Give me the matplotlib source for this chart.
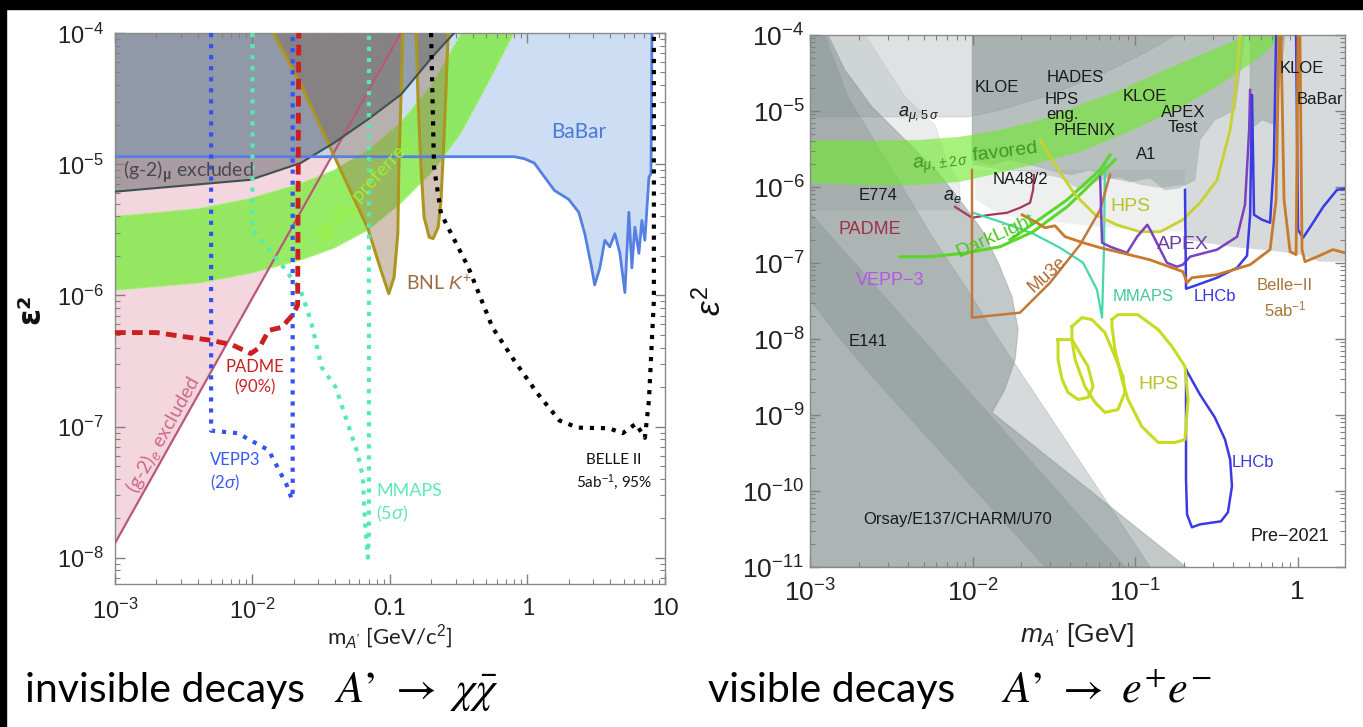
import matplotlib
matplotlib.use('Agg')
import matplotlib.pyplot as plt
from matplotlib.patches import Rectangle
from matplotlib.ticker import FixedLocator, LogLocator, NullFormatter

plt.rcParams['mathtext.fontset'] = 'custom'
plt.rcParams['mathtext.rm'] = 'Liberation Sans'
plt.rcParams['mathtext.it'] = 'Liberation Sans:italic'
plt.rcParams['mathtext.bf'] = 'Liberation Sans:bold'

# -------------------------------------------------
# Invisible decays: (mass [GeV], eps^2) curves
# -------------------------------------------------
babar_m = [1e-3, 0.80, 0.95, 1.12, 1.57, 1.99, 2.36, 2.61, 2.93, 3.08, 3.36, 3.65, 3.97, 4.32,
           4.70, 5.11, 5.46, 5.74, 6.04, 6.46, 6.79, 7.14, 7.64, 7.91, 8.04]
babar_eps = [1.14e-5, 1.14e-5, 1.10e-5, 1.02e-5, 6.3e-6, 5.4e-6, 4.3e-6, 2.95e-6, 1.62e-6, 1.20e-6,
             1.62e-6, 2.63e-6, 2.34e-6, 2.95e-6, 2.09e-6, 1.05e-6, 4.3e-6, 1.62e-6, 3.31e-6,
             2.09e-6, 3.72e-6, 2.63e-6, 7.9e-6, 8.5e-6, 1e-4]

gmu_m = [1e-3, 9.67e-3, 0.0224, 0.039, 0.069, 0.120, 0.209, 0.293]
gmu_eps = [6.17e-6, 7.6e-6, 1.02e-5, 1.45e-5, 2.19e-5, 3.39e-5, 6.8e-5, 1e-4]

ge_m = [1e-3, 0.120]
ge_eps = [1.29e-8, 1e-4]

gpref_up_m = [1e-3, 4.17e-3, 9.67e-3, 0.0224, 0.039, 0.069, 0.120, 0.199, 0.330]
gpref_up_eps = [4.01e-6, 4.61e-6, 5.50e-6, 7.16e-6, 9.0e-6, 1.28e-5, 2.09e-5, 4.01e-5, 1e-4]
gpref_lo_m = [1e-3, 4.17e-3, 9.67e-3, 0.0224, 0.039, 0.069, 0.120, 0.209, 0.330, 0.519, 0.80]
gpref_lo_eps = [1.09e-6, 1.24e-6, 1.47e-6, 1.85e-6, 2.28e-6, 3.13e-6, 5.04e-6, 9.0e-6, 1.73e-5,
                4.15e-5, 1e-4]

bnl1_m = [0.0142, 0.0224, 0.039, 0.069, 0.086, 0.098, 0.107, 0.114, 0.116, 0.120, 0.124]
bnl1_eps = [1e-4, 4.08e-5, 1.17e-5, 3.24e-6, 1.55e-6, 1.03e-6, 1.37e-6, 2.97e-6, 9.5e-6, 3.08e-5, 1e-4]
bnl2_m = [0.155, 0.160, 0.168, 0.177, 0.193, 0.206, 0.224, 0.235, 0.248, 0.265]
bnl2_eps = [1e-4, 3.08e-5, 9.5e-6, 3.94e-6, 2.77e-6, 2.71e-6, 3.30e-6, 5.31e-6, 1.73e-5, 1e-4]

vepp3_m = [5.0e-3, 5.0e-3, 7.8e-3, 0.0131, 0.0177, 0.0193, 0.0196, 0.0196]
vepp3_eps = [1e-4, 9.3e-8, 8.9e-8, 6.6e-8, 3.6e-8, 2.8e-8, 3.2e-8, 1e-4]

padme_m = [1e-3, 2.0e-3, 3.35e-3, 4.94e-3, 7.1e-3, 9.7e-3, 0.01125, 0.0131, 0.0163, 0.0196, 0.0213, 0.0217]
padme_eps = [5.2e-7, 5.2e-7, 4.8e-7, 4.55e-7, 4.2e-7, 3.6e-7, 4.0e-7, 5.4e-7, 5.7e-7, 7.1e-7, 8.4e-7, 1e-4]

mmaps_m = [0.0100, 0.0100, 0.01286, 0.0168, 0.0224, 0.0265, 0.0319, 0.0403, 0.0583, 0.0635, 0.0657,
           0.0690, 0.0703, 0.0703]
mmaps_eps = [1e-4, 3.13e-6, 2.32e-6, 1.64e-6, 1.09e-6, 6.45e-7, 2.82e-7, 1.99e-7, 6.2e-8, 4.1e-8,
             1.9e-8, 1.0e-8, 1.6e-8, 1e-4]

belle_m = [0.199, 0.209, 0.235, 0.371, 0.556, 0.80, 1.18, 1.71, 2.32, 3.90, 4.93, 6.14, 7.14, 7.64, 8.3, 8.3]
belle_eps = [1e-4, 9.5e-6, 4.2e-6, 1.64e-6, 5.7e-7, 3.19e-7, 1.79e-7, 1.11e-7, 9.8e-8, 9.7e-8,
             8.9e-8, 1.05e-7, 8.2e-8, 1.58e-7, 9.1e-7, 1e-4]

# -------------------------------------------------
# Visible decays: exclusion regions and projections
# -------------------------------------------------
bd_outer_m = [1e-3, 1.29e-3, 1.64e-3, 2.41e-3, 3.85e-3, 6.14e-3, 8.61e-3, 0.0114, 0.0144, 0.0175,
              0.0191, 0.0183, 0.0158, 0.0132, 0.206, 1e-3]
bd_outer_eps = [1e-4, 1e-4, 3.47e-5, 1.13e-5, 4.17e-6, 1.54e-6, 6.20e-7, 2.74e-7, 1.01e-7, 3.61e-8,
                1.33e-8, 5.36e-9, 2.16e-9, 1.08e-9, 1e-11, 1e-11]
bd_mid_m = [1e-3, 1.24e-3, 1.71e-3, 3.02e-3, 5.64e-3, 9.93e-3, 0.0132, 0.124, 1e-3]
bd_mid_eps = [1e-4, 1e-4, 1.53e-5, 2.08e-6, 2.22e-7, 3.61e-8, 1.33e-8, 1e-11, 1e-11]
bd_dark_m = [1e-3, 0.0867, 0.0279, 2.41e-3, 1.49e-3, 1e-3]
bd_dark_eps = [4.58e-7, 1e-11, 1e-11, 3.21e-9, 1.08e-8, 3.30e-8]
e774_m = [1e-3, 2.18e-3, 3.85e-3, 5.87e-3, 6.78e-3, 8.37e-3, 8.37e-3, 1e-3]
e774_eps = [1e-4, 1e-4, 1.53e-5, 6.56e-6, 2.49e-6, 1.07e-6, 5.01e-7, 5.01e-7]
amu5_m = [1e-3, 9.38e-3, 0.0148, 0.0300, 0.0610, 0.124, 0.176, 1e-3]
amu5_eps = [8.36e-6, 8.36e-6, 1.03e-5, 1.63e-5, 2.98e-5, 6.35e-5, 1e-4, 1e-4]
top_m = [9.93e-3, 9.93e-3, 0.0148, 0.0226, 0.0345, 0.0459, 0.0610, 0.0809, 0.107, 0.143, 0.203,
         0.206, 0.385, 0.588, 0.780, 1.035, 1.37, 1.96, 1.96]
top_eps = [1e-4, 1.96e-6, 1.68e-6, 1.58e-6, 1.32e-6, 9.18e-7, 1.24e-6, 1.32e-6, 1.07e-6, 9.75e-7,
           1.07e-6, 2.02e-7, 1.64e-7, 1.50e-7, 1.41e-7, 1.29e-7, 1.04e-7, 1.04e-7, 1e-4]
haze_m = [0.0104, 0.0104, 0.0148, 0.0300, 0.0610, 0.124, 0.203, 0.203]
haze_eps = [1.68e-6, 6.8e-7, 4.3e-7, 3.5e-7, 3.0e-7, 2.6e-7, 2.6e-7, 1.68e-6]
dark_top_m = [9.93e-3, 9.93e-3, 0.0128, 0.0170, 0.0226, 0.0300, 0.0398, 0.0528, 0.0702, 0.0931,
              0.124, 0.153, 0.189, 0.234, 0.251, 0.310, 0.412, 0.475]
dark_top_eps = [1e-4, 2.28e-6, 1.96e-6, 2.28e-6, 1.96e-6, 1.68e-6, 1.45e-6, 1.68e-6, 1.32e-6,
                1.17e-6, 1.32e-6, 9.18e-7, 9.75e-7, 1.24e-6, 4.17e-6, 7.63e-6, 1.03e-5, 1e-4]
kloe2_m = [0.511, 0.511, 0.605, 0.728, 0.838]
kloe2_eps = [1e-4, 5.65e-6, 7.63e-6, 6.56e-6, 1e-4]

fav_up_m = [1e-3, 2.34e-3, 4.75e-3, 8.37e-3, 0.0148, 0.0260, 0.0459, 0.0809, 0.143, 0.251, 0.443, 0.475]
fav_up_eps = [4.17e-6, 4.05e-6, 4.17e-6, 4.57e-6, 5.65e-6, 7.63e-6, 1.20e-5, 1.89e-5, 3.27e-5,
              5.46e-5, 9.1e-5, 1e-4]
fav_lo_m = [1e-3, 2.34e-3, 4.75e-3, 8.37e-3, 0.0148, 0.0260, 0.0459, 0.0973, 0.189, 0.333, 0.588, 0.838]
fav_lo_eps = [1.14e-6, 1.04e-6, 1.07e-6, 1.17e-6, 1.54e-6, 2.08e-6, 2.90e-6, 5.65e-6, 1.10e-5,
              2.20e-5, 5.14e-5, 1e-4]

mu3e_m = [9.93e-3, 9.93e-3, 0.0196, 0.0300, 0.0459, 0.0610, 0.0702]
mu3e_eps = [1.68e-6, 1.91e-8, 2.22e-8, 5.51e-8, 1.74e-7, 5.01e-7, 1.45e-6]

belle2_m = [0.0202, 0.0243, 0.0279, 0.0322, 0.0371, 0.0479, 0.0610, 0.0774, 0.124, 0.197, 0.209,
            0.224, 0.320, 0.511, 0.678, 0.738, 0.769, 0.791, 0.826, 0.900, 0.980, 1.007, 1.035,
            1.066, 1.112, 1.32, 1.65, 1.96]
belle2_eps = [4.31e-7, 3.49e-7, 2.91e-7, 3.09e-7, 2.22e-7, 1.85e-7, 1.59e-7, 1.41e-7, 1.10e-7,
              7.69e-8, 5.51e-8, 6.41e-8, 7.02e-8, 9.50e-8, 1.50e-7, 6.79e-7, 1e-4, 1e-4, 6.79e-7,
              1.41e-7, 1.29e-7, 1e-4, 1e-4, 1.50e-7, 1.04e-7, 1.21e-7, 1.50e-7, 1.36e-7]

lhcb_a_m = [0.203, 0.206, 0.234, 0.320, 0.425, 0.489, 0.511, 0.525, 0.540, 0.605, 0.678, 0.716, 0.738]
lhcb_a_eps = [9.18e-7, 4.59e-8, 5.03e-8, 6.41e-8, 8.67e-8, 1.25e-7, 4.31e-7, 1.63e-5, 4.31e-7,
              3.71e-7, 3.39e-7, 2.28e-6, 1e-4]
lhcb_b_m = [0.980, 1.007, 1.081, 1.19, 1.44, 1.75, 1.96]
lhcb_b_eps = [1e-4, 2.74e-7, 2.15e-7, 2.91e-7, 5.49e-7, 9.18e-7, 9.46e-7]
lhcb_d_m = [0.206, 0.251, 0.310, 0.358, 0.385, 0.395, 0.373, 0.338, 0.251, 0.224, 0.209, 0.206, 0.206]
lhcb_d_eps = [3.96e-9, 1.86e-9, 9.27e-10, 4.76e-10, 2.60e-10, 1.15e-10, 5.24e-11, 3.99e-11,
              3.64e-11, 3.33e-11, 4.93e-11, 1.42e-10, 3.96e-9]

apex_m = [0.0610, 0.0627, 0.0702, 0.0893, 0.103, 0.119, 0.124, 0.143, 0.157, 0.181, 0.197, 0.218,
          0.320, 0.425, 0.475, 0.504, 0.511]
apex_eps = [1.36e-6, 1.85e-7, 1.64e-7, 1.36e-7, 2.22e-7, 3.18e-7, 2.74e-7, 1.50e-7, 1.01e-7,
            8.93e-8, 9.50e-8, 1.21e-7, 1.50e-7, 2.22e-7, 5.83e-7, 5.65e-6, 1.89e-5]

hps_m = [0.0260, 0.0322, 0.0428, 0.0568, 0.0774, 0.107, 0.143, 0.197, 0.251, 0.320, 0.358, 0.385,
         0.412, 0.431, 0.443]
hps_eps = [4.17e-6, 1.96e-6, 7.90e-7, 4.31e-7, 3.18e-7, 2.58e-7, 2.58e-7, 3.71e-7, 6.20e-7,
           1.24e-6, 3.08e-6, 5.65e-6, 1.63e-5, 4.69e-5, 1e-4]

dl_lo_m = [3.58e-3, 5.47e-3, 9.25e-3, 0.0148, 0.0236, 0.0382, 0.0492, 0.0610, 0.0753]
dl_lo_eps = [1.21e-7, 1.21e-7, 1.36e-7, 1.64e-7, 2.58e-7, 5.49e-7, 9.18e-7, 1.45e-6, 2.28e-6]
dl_up_m = [0.0170, 0.0272, 0.0382, 0.0610, 0.0702]
dl_up_eps = [2.02e-7, 4.06e-7, 6.79e-7, 1.68e-6, 2.65e-6]

mmaps2_m = [0.0101, 0.0148, 0.0236, 0.0345, 0.0479, 0.0583, 0.0627, 0.0644, 0.0653]
mmaps2_eps = [4.58e-7, 3.49e-7, 2.43e-7, 1.59e-7, 1.01e-7, 4.46e-8, 1.91e-8, 1.50e-7, 1.96e-6]

na48_m = [7.80e-3, 9.93e-3, 0.0128, 0.0163, 0.0196, 0.0226, 0.0236, 0.0239]
na48_eps = [5.49e-7, 3.94e-7, 4.31e-7, 4.58e-7, 5.33e-7, 6.20e-7, 9.18e-7, 1.45e-6]

hps_c1_m = [0.0336, 0.0409, 0.0514, 0.0552, 0.0514, 0.0446, 0.0387, 0.0356, 0.0336, 0.0336]
hps_c1_eps = [9.82e-9, 9.82e-9, 4.34e-9, 2.37e-9, 1.70e-9, 1.60e-9, 1.98e-9, 2.92e-9, 5.36e-9, 9.82e-9]
hps_c2_m = [0.0409, 0.0472, 0.0543, 0.0653, 0.0753, 0.0843, 0.0867, 0.0785, 0.0653, 0.0568, 0.0492,
            0.0428, 0.0409, 0.0409]
hps_c2_eps = [1.46e-8, 1.91e-8, 1.80e-8, 1.21e-8, 5.87e-9, 3.21e-9, 1.98e-9, 1.18e-9, 1.08e-9,
              1.46e-9, 2.37e-9, 5.36e-9, 9.82e-9, 1.46e-8]
hps_c3_m = [0.0721, 0.0785, 0.104, 0.139, 0.169, 0.203, 0.212, 0.203, 0.176, 0.139, 0.110, 0.0906,
            0.0832, 0.0753, 0.0721, 0.0721]
hps_c3_eps = [1.80e-8, 2.09e-8, 2.09e-8, 1.33e-8, 7.94e-9, 4.34e-9, 1.60e-9, 4.76e-10, 4.35e-10,
              4.35e-10, 7.06e-10, 1.60e-9, 2.92e-9, 7.26e-9, 1.46e-8, 1.80e-8]


def style_axes(ax, size, family):
    ax.set_xscale('log')
    ax.set_yscale('log')
    for s in ax.spines.values():
        s.set_color('#8a8a8a')
        s.set_linewidth(1.0)
    ax.tick_params(which='both', direction='in', top=True, right=True, colors='#808080',
                   labelcolor='#222222', labelsize=size)
    ax.tick_params(which='major', length=7, width=1)
    ax.tick_params(which='minor', length=3.5, width=0.8)
    ax.yaxis.set_minor_locator(LogLocator(base=10, subs=range(2, 10), numticks=20))
    ax.yaxis.set_minor_formatter(NullFormatter())
    ax.xaxis.set_minor_locator(LogLocator(base=10, subs=range(2, 10), numticks=20))
    ax.xaxis.set_minor_formatter(NullFormatter())
    for lab in ax.get_xticklabels() + ax.get_yticklabels():
        lab.set_family(family)


fig = plt.figure(figsize=(13.63, 7.27), dpi=100)
fig.patch.set_facecolor('white')

# ---------------- left panel ----------------
ax1 = fig.add_axes([0.08437, 0.19670, 0.40352, 0.75791])
ax1.set_xscale('log')
ax1.set_yscale('log')
ax1.set_xlim(1e-3, 10)
ax1.set_ylim(6.3e-9, 1e-4)

ax1.fill(ge_m + [1e-3], ge_eps + [1e-4], color='#f4d6df', lw=0, zorder=1)
ax1.plot(ge_m, ge_eps, color='#b9587a', lw=1.6, zorder=4)
ax1.fill(babar_m + [1e-3], babar_eps + [1e-4], color='#b8cff0', alpha=0.7, lw=0, zorder=1.1)
ax1.fill(gpref_up_m + gpref_lo_m[::-1], gpref_up_eps + gpref_lo_eps[::-1], color='#84ea4a',
         alpha=0.85, lw=0, zorder=1.2)
ax1.plot(gpref_up_m, gpref_up_eps, color='#b6f58c', lw=1.2, ls=':', zorder=1.25)
ax1.plot(gpref_lo_m, gpref_lo_eps, color='#b6f58c', lw=1.2, ls=':', zorder=1.25)
for bm, be in ((bnl1_m, bnl1_eps), (bnl2_m, bnl2_eps)):
    ax1.fill(bm, be, color='#9c7a5a', alpha=0.45, lw=0, zorder=1.3)
    ax1.plot(bm, be, color='#ad9620', lw=2.2, zorder=4)
ax1.fill(gmu_m + [1e-3], gmu_eps + [1e-4], color='#4e5458', alpha=0.45, lw=0, zorder=1.4)
ax1.plot(gmu_m, gmu_eps, color='#3e5252', lw=1.5, zorder=4)
ax1.plot(babar_m, babar_eps, color='#5580e2', lw=2, zorder=4)

ax1.plot(vepp3_m, vepp3_eps, color='#3452f0', lw=3, ls=':', zorder=5)
ax1.plot(mmaps_m, mmaps_eps, color='#55eab5', lw=3, ls=':', zorder=5)
ax1.plot(belle_m, belle_eps, color='black', lw=3, ls=':', zorder=5)
ax1.plot(padme_m, padme_eps, color='#cc1f1f', lw=3.5, ls=(0, (2.2, 1.3)), zorder=6)

lf = 'Lato'
ax1.text(2.36, 1.75e-5, 'BaBar', color='#4a7ad8', fontsize=15, family=lf, ha='center', va='center')
ax1.text(1.15e-3, 8.7e-6, '(g-2)$_{\\mathbf{\\mu}}$ excluded', color='#4a4a4a', fontsize=14,
         family=lf, ha='left', va='center', zorder=7)
ax1.text(0.0668, 6.34e-6, '(g-2)$_\\mu$ preferred', color='#9cf034', fontsize=14, family=lf,
         rotation=47, ha='center', va='center', rotation_mode='anchor', zorder=7)
ax1.text(0.131, 1.24e-6, 'BNL $K^{+}$', color='#9c6c40', fontsize=14, family=lf, ha='left',
         va='center', zorder=7)
ax1.text(0.01035, 2.37e-7, 'PADME\n(90%)', color='#c82020', fontsize=12, family=lf, ha='center',
         va='center', linespacing=1.3, zorder=7)
ax1.text(2.61e-3, 7.8e-8, '(g-2)$_e$ excluded', color='#cc6a8c', fontsize=14, family=lf,
         rotation=60.8, ha='center', va='bottom', rotation_mode='anchor', zorder=7)
ax1.text(4.9e-3, 4.46e-8, 'VEPP3\n(2$\\sigma$)', color='#3a5af0', fontsize=12, family=lf,
         ha='left', va='center', linespacing=1.3, zorder=7)
ax1.text(0.0791, 2.58e-8, 'MMAPS\n(5$\\sigma$)', color='#5ce8b8', fontsize=13, family=lf,
         ha='left', va='center', linespacing=1.3, zorder=7)
ax1.text(4.25, 4.46e-8, 'BELLE II\n5ab$^{-1}$, 95%', color='#111111', fontsize=11, family=lf,
         ha='center', va='center', linespacing=1.3, zorder=7)

style_axes(ax1, 17, lf)
ax1.xaxis.set_major_locator(FixedLocator([1e-3, 1e-2, 0.1, 1, 10]))
ax1.set_xticklabels(['$10^{-3}$', '$10^{-2}$', '0.1', '1', '10'], family=lf, fontsize=17)
ax1.yaxis.set_major_locator(FixedLocator([1e-8, 1e-7, 1e-6, 1e-5, 1e-4]))
ax1.set_yticklabels(['$10^{-8}$', '$10^{-7}$', '$10^{-6}$', '$10^{-5}$', '$10^{-4}$'],
                    family=lf, fontsize=17)
ax1.tick_params(axis='x', pad=10)
ax1.tick_params(axis='y', pad=8)
ax1.set_xlabel("m$_{A'}$ [GeV/c$^2$]", fontsize=16, family=lf, color='#222222', labelpad=0)
ax1.set_ylabel('ε²', fontsize=22, fontweight='bold', color='#111111', labelpad=8)

# ---------------- right panel ----------------
ax2 = fig.add_axes([0.59428, 0.22008, 0.39252, 0.73177])
ax2.set_xscale('log')
ax2.set_yscale('log')
ax2.set_xlim(1e-3, 1.96)
ax2.set_ylim(1e-11, 1e-4)

gray = '#7a8686'
edge = '#8e9898'
ax2.fill(amu5_m, amu5_eps, color=gray, alpha=0.24, ec=edge, lw=0.8, zorder=1)
ax2.fill(top_m, top_eps, color=gray, alpha=0.3, lw=0, zorder=1)
ax2.fill(haze_m, haze_eps, color=gray, alpha=0.12, lw=0, zorder=1)
ax2.fill(dark_top_m, dark_top_eps, color=gray, alpha=0.32, ec=edge, lw=0.6, zorder=1.1)
ax2.fill(kloe2_m, kloe2_eps, color=gray, alpha=0.38, ec=edge, lw=0.6, zorder=1.1)
ax2.fill(bd_outer_m, bd_outer_eps, color=gray, alpha=0.45, ec=edge, lw=0.8, zorder=1.2)
ax2.fill(e774_m, e774_eps, color=gray, alpha=0.15, ec=edge, lw=0.8, zorder=1.25)
ax2.fill(bd_mid_m, bd_mid_eps, color=gray, alpha=0.3, ec=edge, lw=0.8, zorder=1.3)
ax2.fill(bd_dark_m, bd_dark_eps, color=gray, alpha=0.3, ec=edge, lw=0.8, zorder=1.4)
ax2.fill(fav_up_m + fav_lo_m[::-1], fav_up_eps + fav_lo_eps[::-1], color='#70ea2e', alpha=0.62,
         lw=0, zorder=1.5)

ax2.plot(na48_m, na48_eps, color='#a23a58', lw=1.6, zorder=3)
ax2.plot(mmaps2_m, mmaps2_eps, color='#45d8a8', lw=1.6, zorder=3)
ax2.plot(dl_lo_m, dl_lo_eps, color='#5ad82a', lw=2.2, zorder=3)
ax2.plot(dl_up_m, dl_up_eps, color='#5ad82a', lw=2.2, zorder=3)
ax2.plot(hps_m, hps_eps, color='#c8d22e', lw=2, zorder=3)
ax2.plot(mu3e_m, mu3e_eps, color='#c0793c', lw=1.8, zorder=3)
ax2.plot(apex_m, apex_eps, color='#7a42c2', lw=1.8, zorder=3.1)
ax2.plot(lhcb_a_m, lhcb_a_eps, color='#3b3be6', lw=1.8, zorder=3.2)
ax2.plot(lhcb_b_m, lhcb_b_eps, color='#3b3be6', lw=1.8, zorder=3.2)
ax2.plot(belle2_m, belle2_eps, color='#c87a2c', lw=2, zorder=3.3)
ax2.plot(lhcb_d_m, lhcb_d_eps, color='#3b3be6', lw=1.8, zorder=3.2)
for cm, ce in ((hps_c1_m, hps_c1_eps), (hps_c2_m, hps_c2_eps), (hps_c3_m, hps_c3_eps)):
    ax2.plot(cm, ce, color='#c6dc22', lw=2.2, zorder=3.4)

rf = 'Liberation Sans'
labels_dark = [
    (0.01416, 2.01e-5, 'KLOE'), (0.0428, 2.72e-5, 'HADES'), (0.0356, 1.13e-5, 'HPS\neng.'),
    (0.1154, 1.53e-5, 'KLOE'), (0.0492, 5.48e-6, 'PHENIX'), (0.197, 7.63e-6, 'APEX\nTest'),
    (0.117, 2.65e-6, 'A1'), (1.066, 3.68e-5, 'KLOE'), (1.37, 1.40e-5, 'BaBar'),
    (0.0196, 1.24e-6, 'NA48/2'), (2.62e-3, 7.66e-7, 'E774'), (2.28e-3, 9.25e-9, 'E141'),
]
for xm, ye, s in labels_dark:
    ax2.text(xm, ye, s, color='#1a1a1a', fontsize=12, family=rf, ha='center', va='center',
             linespacing=0.95, zorder=6)
ax2.text(4.63e-3, 8.89e-6, '$a_{\\mu,5\\,\\sigma}$', color='#1a1a1a', fontsize=13, ha='center',
         va='center', zorder=6)
ax2.text(7.48e-3, 7.66e-7, '$a_e$', color='#1a1a1a', fontsize=13, ha='center', va='center', zorder=6)
ax2.text(0.0104, 2.42e-6, '$a_{\\mu,\\pm2\\,\\sigma}$ favored', color='#3c9a1c', fontsize=14,
         family=rf, rotation=7, ha='center', va='center', rotation_mode='anchor', zorder=6)
ax2.text(2.34e-3, 2.74e-7, 'PADME', color='#a03048', fontsize=13, family=rf, ha='center',
         va='center', zorder=6)
ax2.text(0.01374, 2.29e-7, 'DarkLight', color='#4cc81e', fontsize=14, family=rf, rotation=24,
         ha='center', va='center', rotation_mode='anchor', zorder=6)
ax2.text(0.0931, 5.49e-7, 'HPS', color='#b8c22a', fontsize=14, family=rf, ha='center',
         va='center', zorder=6)
ax2.text(0.197, 1.74e-7, 'APEX', color='#6a3aa8', fontsize=14, family=rf, ha='center',
         va='center', zorder=6)
ax2.text(3.11e-3, 5.85e-8, 'VEPP−3', color='#b455ec', fontsize=13, family=rf, ha='center',
         va='center', zorder=6)
ax2.text(0.0287, 7.02e-8, 'Mu3e', color='#b06a30', fontsize=13, family=rf, rotation=42,
         ha='center', va='center', rotation_mode='anchor', zorder=6)
ax2.text(0.112, 3.61e-8, 'MMAPS', color='#45c89a', fontsize=12, family=rf, ha='center',
         va='center', zorder=6)
ax2.text(0.310, 3.61e-8, 'LHCb', color='#3838d8', fontsize=12, family=rf, ha='center',
         va='center', zorder=6)
ax2.text(0.838, 3.4e-8, 'Belle−II\n5ab$^{-1}$', color='#a8743a', fontsize=12, family=rf,
         ha='center', va='center', linespacing=1.4, zorder=6)
ax2.text(0.139, 2.52e-9, 'HPS', color='#b8c22a', fontsize=14, family=rf, ha='center',
         va='center', zorder=6)
ax2.text(0.532, 2.38e-10, 'LHCb', color='#3838d8', fontsize=12, family=rf, ha='center',
         va='center', zorder=6)
ax2.text(8.15e-3, 4.24e-11, 'Orsay/E137/CHARM/U70', color='#1a1a1a', fontsize=12, family=rf,
         ha='center', va='center', zorder=6)
ax2.text(0.900, 2.53e-11, 'Pre−2021', color='#1a1a1a', fontsize=13, family=rf, ha='center',
         va='center', zorder=6)

style_axes(ax2, 19, rf)
ax2.xaxis.set_major_locator(FixedLocator([1e-3, 1e-2, 1e-1, 1]))
ax2.set_xticklabels(['$10^{-3}$', '$10^{-2}$', '$10^{-1}$', '1'], family=rf, fontsize=19)
ax2.yaxis.set_major_locator(FixedLocator([1e-11, 1e-10, 1e-9, 1e-8, 1e-7, 1e-6, 1e-5, 1e-4]))
ax2.set_yticklabels(['$10^{-11}$', '$10^{-10}$', '$10^{-9}$', '$10^{-8}$', '$10^{-7}$',
                     '$10^{-6}$', '$10^{-5}$', '$10^{-4}$'], family=rf, fontsize=19)
ax2.tick_params(axis='x', pad=9)
ax2.tick_params(axis='y', pad=4)
ax2.set_xlabel("$m_{A'}$ [GeV]", fontsize=19, family=rf, color='#222222', labelpad=10)
ax2.set_ylabel('$\\epsilon^2$', fontsize=24, color='#111111', labelpad=10)

# ---------------- captions and frame ----------------
fig.text(25 / 1363, 1 - 702 / 727, 'invisible decays', fontsize=29.5, family='Lato', va='baseline')
fig.text(334 / 1363, 1 - 702 / 727, '$A$’ $\\rightarrow$ $\\chi\\bar{\\chi}$', fontsize=32,
         family='STIXGeneral', math_fontfamily='stix', va='baseline')
fig.text(708 / 1363, 1 - 702 / 727, 'visible decays', fontsize=29.5, family='Lato', va='baseline')
fig.text(1001 / 1363, 1 - 702 / 727, '$A$’ $\\rightarrow$ $e^{+}e^{-}$', fontsize=32,
         family='STIXGeneral', math_fontfamily='stix', va='baseline')

fig.patches.append(Rectangle((0, 1 - 9 / 727), 1, 9 / 727, transform=fig.transFigure,
                             color='black', zorder=10))
fig.patches.append(Rectangle((0, 0), 6 / 1363, 1, transform=fig.transFigure,
                             color='black', zorder=10))

fig.savefig('out.png', dpi=100, facecolor='white')
